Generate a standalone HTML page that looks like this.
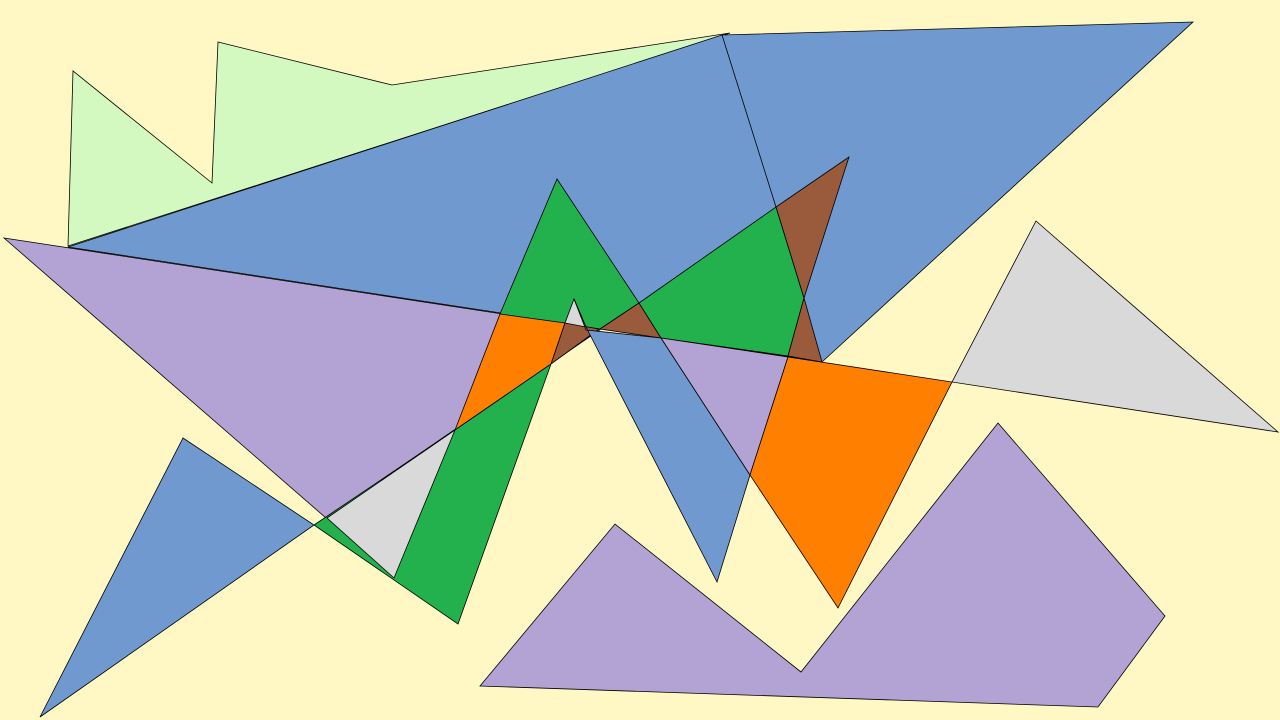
<!DOCTYPE html>
<html><head><meta charset="utf-8"><title>Polygons</title>
<style>html,body{margin:0;padding:0;background:#fff8c4;}svg{display:block}</style></head>
<body>
<svg width="1280" height="720" viewBox="0 0 1280 720" xmlns="http://www.w3.org/2000/svg">
<rect width="1280" height="720" fill="#fff8c4"/>
<g stroke="#000" stroke-width="0.8" stroke-linejoin="miter">
<polygon fill="#d3f8c0" points="68,246 73,71 212,183 218,42 392,85 730,33"/>
<polygon fill="#7099d0" points="68,247 722,35 1193,22 822,362"/>
<polygon fill="#b3a2d4" points="4,238 601,329 326,518"/>
<polygon fill="#22b14c" points="557,179 639,303 600,329 500,314"/>
<polygon fill="#ff7f00" points="500,314 565,323 551,364 455,430"/>
<polygon fill="#9a5a3c" points="565,323 599,329 551,364"/>
<polygon fill="#d9d9d9" points="574,299 565,323 586,327"/>
<polygon fill="#9a5a3c" points="639,303 600,329 661,338"/>
<polygon fill="#22b14c" points="639,303 776,207 804,298 788,356 661,338"/>
<polygon fill="#9a5a3c" points="776,207 849,157 804,298"/>
<polygon fill="#9a5a3c" points="804,298 822,362 788,356"/>
<polygon fill="#7099d0" points="586,330 661,338 750,475 717,582 586,327 574,299"/>
<polygon fill="#b3a2d4" points="661,338 788,357 750,475"/>
<polygon fill="#ff7f00" points="788,357 952,382 838,608 750,475"/>
<polygon fill="#d9d9d9" points="1036,221 1278,432 952,382"/>
<polygon fill="#7099d0" points="183,438 314,525 40,717"/>
<polygon fill="#22b14c" points="314,525 455,430 551,364 458,624"/>
<polygon fill="#d9d9d9" points="327,518 455,430 394,578"/>
<polygon fill="#b3a2d4" points="480,686 615,524 801,672 998,423 1165,616 1098,707"/>
<line x1="722" y1="35" x2="776" y2="207"/>
</g>
</svg>
</body></html>
